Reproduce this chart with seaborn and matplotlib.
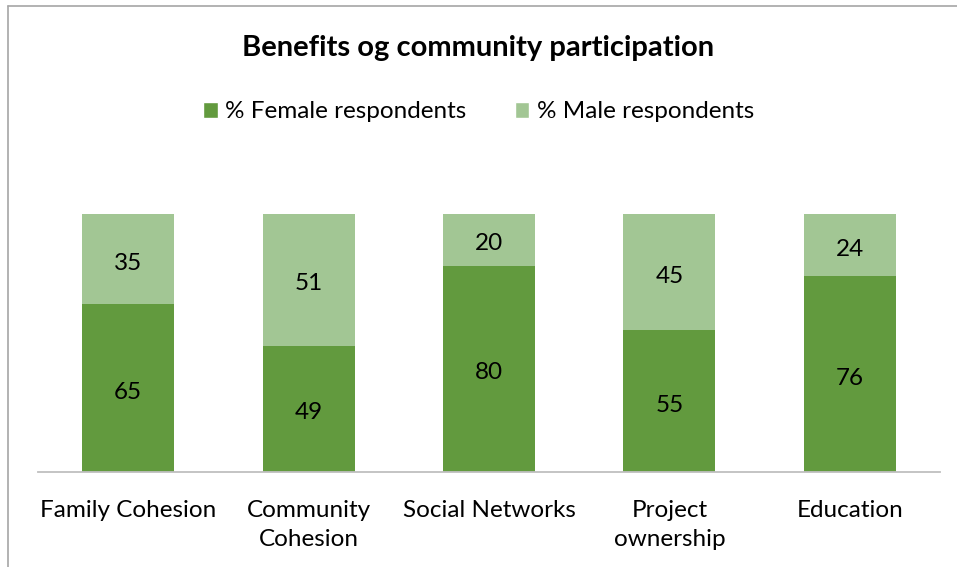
import numpy as np
import pandas as pd
import matplotlib
matplotlib.use("Agg")
import matplotlib.pyplot as plt
from matplotlib.patches import Patch
from matplotlib.lines import Line2D
import seaborn as sns

categories = ["Family Cohesion", "Community\nCohesion", "Social Networks",
              "Project\nownership", "Education"]
female = [65, 49, 80, 55, 76]
male = [35, 51, 20, 45, 24]

dark_green = "#629a3e"
light_green = "#a2c694"

sns.set_theme(style="white")
plt.rcParams["font.family"] = ["Lato", "DejaVu Sans"]
plt.rcParams["text.color"] = "black"
plt.rcParams["xtick.color"] = "black"

df = pd.DataFrame({"category": categories, "female": female, "male": male})

fig = plt.figure(figsize=(9.57, 5.67), dpi=100)
ax = fig.add_axes([38 / 957, 95 / 567, 902 / 957, 258 / 567])

sns.barplot(data=df, x="category", y="female", color=dark_green, width=0.51,
            saturation=1, ax=ax, linewidth=0)
sns.barplot(data=df, x="category", y="male", bottom=df["female"], color=light_green,
            width=0.51, saturation=1, ax=ax, linewidth=0)

# segment labels
for i, (f, m) in enumerate(zip(female, male)):
    ax.annotate(f"{f}", (i, f / 2), xytext=(0, -3), textcoords="offset points",
                ha="center", va="center", fontsize=17.5, color="black")
    ax.annotate(f"{m}", (i, f + m / 2), xytext=(0, -3), textcoords="offset points",
                ha="center", va="center", fontsize=17.5, color="black")

ax.set_xlim(-0.5, len(categories) - 0.5)
ax.set_ylim(0, 100)
ax.set_xlabel("")
ax.set_ylabel("")
ax.set_yticks([])
ax.tick_params(axis="x", length=0, pad=20, labelsize=17.5, labelcolor="black")
for lbl in ax.get_xticklabels():
    lbl.set_linespacing(1.5)
for s in ["top", "right", "left"]:
    ax.spines[s].set_visible(False)
ax.spines["bottom"].set_color("#bfbfbf")
ax.spines["bottom"].set_linewidth(1.3)

fig.text(0.5, 1 - 48 / 567, "Benefits og community participation", ha="center",
         va="center", fontsize=21, fontweight="bold", color="black")

handles = [Patch(facecolor=dark_green, label="% Female respondents"),
           Patch(facecolor=light_green, label="% Male respondents")]
fig.legend(handles=handles, loc="center", bbox_to_anchor=(0.5, 1 - 112 / 567), ncol=2,
           frameon=False, fontsize=17.5, handlelength=0.6, handleheight=0.6,
           handletextpad=0.3, columnspacing=2.0, labelcolor="black")

# chart frame
fig.add_artist(Line2D([8 / 957, 8 / 957], [0, 1 - 6 / 567], color="#a6a6a6", lw=1.2,
                      transform=fig.transFigure))
fig.add_artist(Line2D([8 / 957, 1], [1 - 6 / 567, 1 - 6 / 567], color="#a6a6a6", lw=1.2,
                      transform=fig.transFigure))

fig.savefig("out.png", dpi=100)
